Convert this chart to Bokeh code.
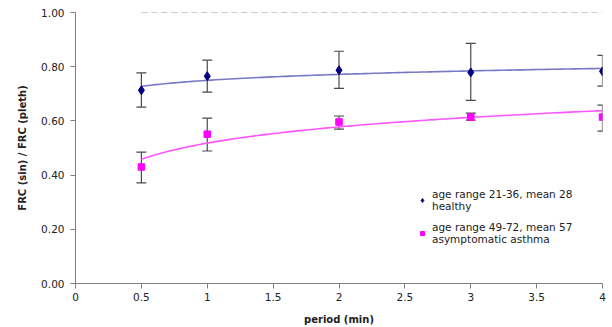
import numpy as np
from bokeh.plotting import figure
from bokeh.models import (Range1d, ColumnDataSource, Whisker, TeeHead, Legend, LegendItem,
                          FixedTicker, CustomJSTickFormatter)
from bokeh.embed import file_html
from bokeh.resources import INLINE

# ---- data ----
period = [0.5, 1, 2, 3, 4]
healthy_mean = [0.713, 0.765, 0.787, 0.779, 0.783]
healthy_upper = [0.777, 0.824, 0.857, 0.886, 0.842]
healthy_lower = [0.651, 0.706, 0.720, 0.676, 0.728]
asthma_mean = [0.430, 0.551, 0.596, 0.614, 0.614]
asthma_upper = [0.485, 0.610, 0.618, 0.629, 0.658]
asthma_lower = [0.371, 0.489, 0.570, 0.603, 0.562]
ref_x = [0.5, 4]
ref_y = [1.0, 1.0]
x_ticks = [0, 0.5, 1, 1.5, 2, 2.5, 3, 3.5, 4]
y_ticks = [0.0, 0.2, 0.4, 0.6, 0.8, 1.0]
label_healthy = "age range 21-36, mean 28\nhealthy"
label_asthma = "age range 49-72, mean 57\nasymptomatic asthma"

FONT = "DejaVu Sans"

p = figure(width=612, height=327, output_backend="svg", toolbar_location=None,
           x_range=Range1d(0, 4), y_range=Range1d(0, 1.0),
           min_border_left=75, min_border_right=10, min_border_top=12, min_border_bottom=43)
p.outline_line_color = None
p.xgrid.visible = False
p.ygrid.visible = False

# reference dashed line
p.line(ref_x, ref_y, line_color="#9a9a9a", line_width=1.2, line_dash="6 4")

# logarithmic trend lines fitted to the data
xs = np.linspace(min(period), max(period), 100)
bh, ah = np.polyfit(np.log(period), healthy_mean, 1)
ba, aa = np.polyfit(np.log(period), asthma_mean, 1)
p.line(xs, ah + bh * np.log(xs), line_color="#7878c4", line_width=1.6)
p.line(xs, aa + ba * np.log(xs), line_color="#ff55ff", line_width=1.6)

src_h = ColumnDataSource(dict(x=period, y=healthy_mean, up=healthy_upper, lo=healthy_lower))
src_a = ColumnDataSource(dict(x=period, y=asthma_mean, up=asthma_upper, lo=asthma_lower))
for src in (src_h, src_a):
    w = Whisker(source=src, base="x", upper="up", lower="lo", line_color="#4a4a4a", line_width=1.2,
                upper_head=TeeHead(size=10, line_color="#4a4a4a", line_width=1.2),
                lower_head=TeeHead(size=10, line_color="#4a4a4a", line_width=1.2))
    p.add_layout(w)

r_h = p.scatter("x", "y", source=src_h, marker="diamond", size=9, fill_color="#000080", line_color="#000080")
r_a = p.scatter("x", "y", source=src_a, marker="square", size=6.5, fill_color="#ff00ff", line_color="#ff00ff")

legend = Legend(items=[LegendItem(label=label_healthy, renderers=[r_h]),
                       LegendItem(label=label_asthma, renderers=[r_a])],
                location=(342, 38), border_line_alpha=0, background_fill_alpha=0,
                padding=0, margin=0, spacing=9, glyph_width=10, glyph_height=12, label_standoff=5,
                label_text_font=FONT, label_text_font_size="10.5px", label_text_color="#222222",
                label_text_line_height=1.35, label_height=12)
p.add_layout(legend, "center")

# axes
for ax in (p.xaxis[0], p.yaxis[0]):
    ax.axis_line_color = "#808080"
    ax.major_tick_line_color = "#808080"
    ax.minor_tick_line_color = None
    ax.major_tick_in = 0
    ax.major_tick_out = 5
    ax.major_label_text_font = FONT
    ax.major_label_text_font_size = "10.5px"
    ax.major_label_text_color = "#222222"
    ax.axis_label_text_font = FONT
    ax.axis_label_text_font_style = "bold"
    ax.axis_label_text_font_size = "10px"
    ax.axis_label_text_color = "#222222"

p.xaxis.ticker = FixedTicker(ticks=x_ticks)
p.xaxis.formatter = CustomJSTickFormatter(code="return String(tick);")
p.xaxis.major_label_standoff = 4
p.xaxis.axis_label = "period (min)"
p.xaxis.axis_label_standoff = 10

p.yaxis.ticker = FixedTicker(ticks=y_ticks)
p.yaxis.formatter = CustomJSTickFormatter(code="return tick.toFixed(2);")
p.yaxis.major_label_standoff = 6
p.yaxis.axis_label = "FRC (sin) / FRC (pleth)"
p.yaxis.axis_label_standoff = 10

open("out.html", "w").write(file_html(p, INLINE))
